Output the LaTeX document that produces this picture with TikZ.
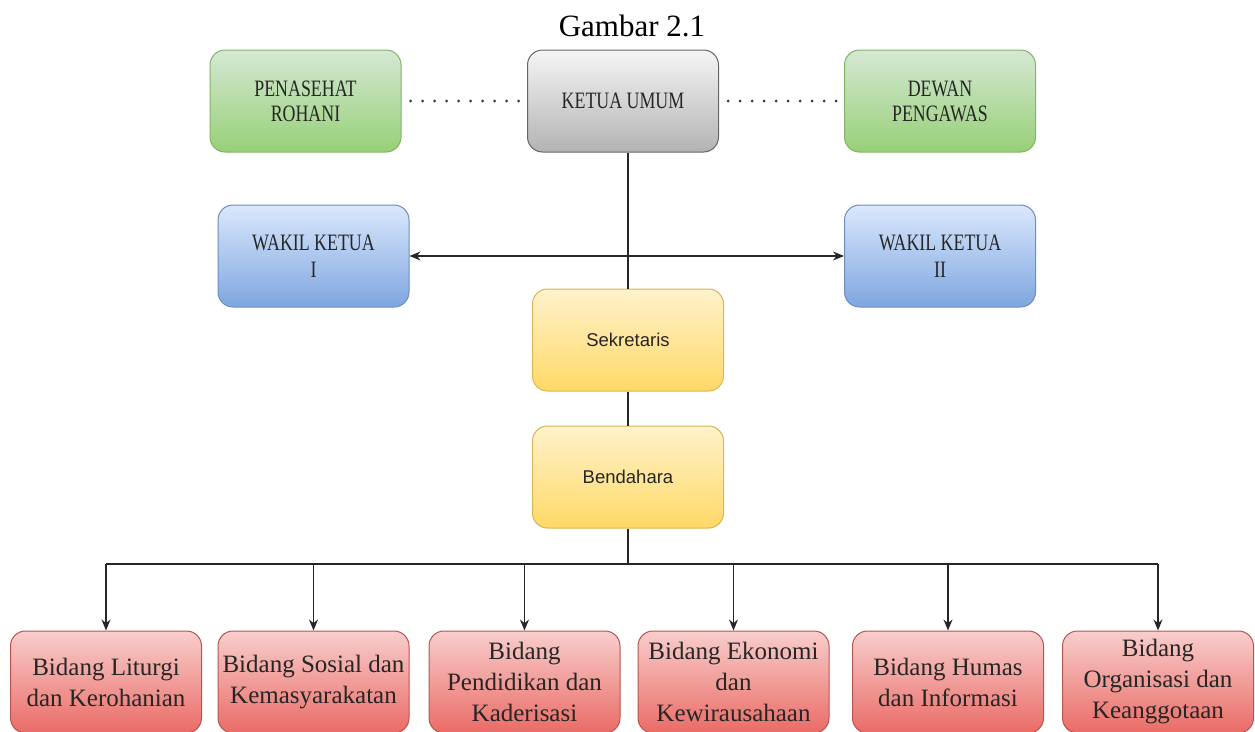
\documentclass[tikz,border=0pt]{standalone}
\usepackage{fontspec}
\setmainfont{Liberation Serif}
\newfontfamily\arialf{Liberation Sans}
\newfontfamily\condf[FakeStretch=0.76]{Liberation Serif}
\usetikzlibrary{arrows.meta}
\definecolor{gT}{HTML}{D5E8D4}\definecolor{gB}{HTML}{97D077}\definecolor{gD}{HTML}{82B366}
\definecolor{kT}{HTML}{F5F5F5}\definecolor{kB}{HTML}{B3B3B3}\definecolor{kD}{HTML}{666666}
\definecolor{bT}{HTML}{DAE8FC}\definecolor{bB}{HTML}{7EA6E0}\definecolor{bD}{HTML}{6C8EBF}
\definecolor{yT}{HTML}{FFF2CC}\definecolor{yB}{HTML}{FFD966}\definecolor{yD}{HTML}{D6B656}
\definecolor{rT}{HTML}{F8CECC}\definecolor{rB}{HTML}{EA6B66}\definecolor{rD}{HTML}{B85450}
\tikzset{
  box/.style={rounded corners=15pt, minimum width=191pt, minimum height=102pt, inner sep=0pt, align=center, line width=1pt, text=black!85},
  greenbox/.style={box, draw=gD, top color=gT, bottom color=gB, font=\condf\fontsize{23.5}{25}\selectfont},
  graybox/.style={box, draw=kD, top color=kT, bottom color=kB, font=\condf\fontsize{23.5}{25}\selectfont},
  bluebox/.style={box, draw=bD, top color=bT, bottom color=bB, font=\condf\fontsize{23.5}{27}\selectfont},
  yellowbox/.style={box, draw=yD, top color=yT, bottom color=yB, font=\arialf\fontsize{18.5}{22}\selectfont},
  redbox/.style={box, draw=rD, top color=rT, bottom color=rB, font=\fontsize{25}{31}\selectfont},
  conn/.style={line width=1.3pt, draw=black!85},
  arr/.style={conn, -{Stealth[length=11pt,width=9pt]}},
  dots/.style={line width=3pt, line cap=round, dash pattern=on 0pt off 12pt, draw=black!80}
}
\begin{document}
\begin{tikzpicture}[x=1pt,y=-1pt]
\useasboundingbox (0,0) rectangle (1255,731);
\clip (0,0) rectangle (1255,731);
\node[font=\fontsize{31}{34}\selectfont, anchor=base] (title) at (632,36) {Gambar 2.1};
\node[greenbox] (pr) at (305.5,101) {PENASEHAT\\ROHANI};
\node[graybox] (ku) at (623,101) {KETUA UMUM};
\node[greenbox] (dp) at (940,101) {DEWAN\\PENGAWAS};
\node[bluebox] (w1) at (313.5,256) {WAKIL KETUA\\I};
\node[bluebox] (w2) at (940,256) {WAKIL KETUA\\II};
\node[yellowbox] (sek) at (628,340) {Sekretaris};
\node[yellowbox] (ben) at (628,477) {Bendahara};
\node[redbox] (b1) at (106,682) {Bidang Liturgi\\dan Kerohanian};
\node[redbox] (b2) at (313.5,682) {Bidang Sosial dan\\Kemasyarakatan};
\node[redbox] (b3) at (524.5,682) {Bidang\\Pendidikan dan\\Kaderisasi};
\node[redbox] (b4) at (733.5,682) {Bidang Ekonomi\\dan\\Kewirausahaan};
\node[redbox] (b5) at (948,682) {Bidang Humas\\dan Informasi};
\node[redbox] (b6) at (1158,682) {Bidang\\Organisasi dan\\Keanggotaan};
\coordinate (hub) at (628,256);
\coordinate (bus) at (628,564);
\draw[dots] ([xshift=9pt]pr.east) -- ([xshift=-3pt]ku.west);
\draw[dots] ([xshift=9pt]ku.east) -- ([xshift=-3pt]dp.west);
\draw[conn] (ku.south -| hub) -- (sek.north -| hub);
\draw[arr] (hub) -- (w1.east);
\draw[arr] (hub) -- (w2.west);
\draw[conn] (sek.south) -- (ben.north);
\draw[conn] (ben.south) -- (bus);
\draw[conn] (bus -| b1.north) -- (bus -| b6.north);
\foreach \b in {b1,b2,b3,b4,b5,b6}{
  \draw[arr] (bus -| \b.north) -- (\b.north);
}
\end{tikzpicture}
\end{document}
